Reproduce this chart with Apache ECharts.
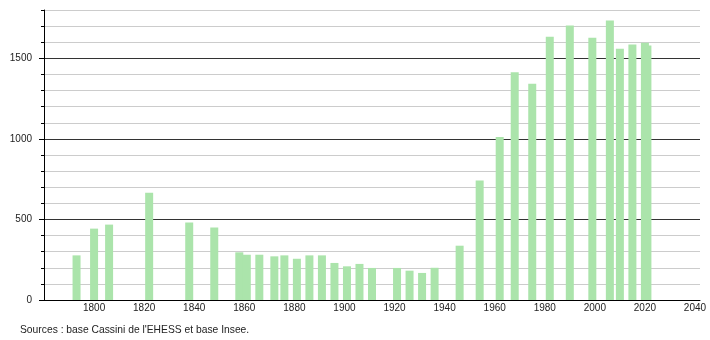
<!DOCTYPE html>
<html>
<head>
<meta charset="utf-8">
<script src="https://cdn.jsdelivr.net/npm/echarts@6/dist/echarts.min.js"></script>
<style>
html,body{margin:0;padding:0;background:#fff;}
#c{width:710px;height:340px;}
</style>
</head>
<body>
<div id="c"></div>
<script>
const years = [1793,1800,1806,1822,1838,1848,1858,1861,1866,1872,1876,1881,1886,1891,1896,1901,1906,1911,1921,1926,1931,1936,1946,1954,1962,1968,1975,1982,1990,1999,2006,2010,2015,2020,2021];
const population = [277,443,468,665,481,450,296,281,281,271,277,256,277,277,230,209,224,199,199,182,168,200,337,741,1012,1414,1343,1634,1704,1627,1735,1559,1586,1596,1579];
const xTickLabels = [1800,1820,1840,1860,1880,1900,1920,1940,1960,1980,2000,2020,2040];
const yTickLabels = [0,500,1000,1500];
const sourceText = "Sources : base Cassini de l'EHESS et base Insee.";

const yMax = 1800;
const splitColors = [];
for (let v = 0; v <= yMax; v += 100) splitColors.push(v % 500 === 0 ? '#333333' : '#cccccc');

const chart = echarts.init(document.getElementById('c'), null, {renderer:'canvas'});
const font = {fontFamily:'Liberation Sans, Arial, sans-serif', fontSize:10, color:'#222'};
const plain = v => String(v);
chart.setOption({
  animation:false,
  backgroundColor:'#fff',
  grid:{left:44,right:10,top:10,bottom:40,containLabel:false},
  title:{text:sourceText,left:20,top:325,padding:0,textStyle:Object.assign({},font,{fontWeight:'normal',fontSize:10.3})},
  xAxis:{type:'value',min:1780,max:2042,interval:20,
    axisLine:{show:true,onZero:false,lineStyle:{color:'#000',width:1}},
    axisTick:{show:false},
    splitLine:{show:false},
    axisLabel:Object.assign({customValues:xTickLabels,margin:3,formatter:plain},font)
  },
  yAxis:[
    {type:'value',min:0,max:yMax,interval:100,position:'left',
     axisLine:{show:true,lineStyle:{color:'#000',width:1}},
     axisTick:{show:true,length:3,lineStyle:{color:'#000'}},
     axisLabel:{show:false},
     splitLine:{show:true,lineStyle:{color:splitColors,width:1}}
    },
    {type:'value',min:0,max:yMax,interval:100,position:'left',
     axisLine:{show:false},
     axisTick:{show:true,length:5,customValues:yTickLabels,lineStyle:{color:'#000'}},
     axisLabel:Object.assign({customValues:yTickLabels,margin:12,formatter:plain},font),
     splitLine:{show:false}
    }
  ],
  series:[{
    type:'bar',
    yAxisIndex:0,
    barWidth:8,
    itemStyle:{color:'#abe4ab'},
    data:years.map((y,i)=>[y,population[i]])
  }]
});
</script>
</body>
</html>
